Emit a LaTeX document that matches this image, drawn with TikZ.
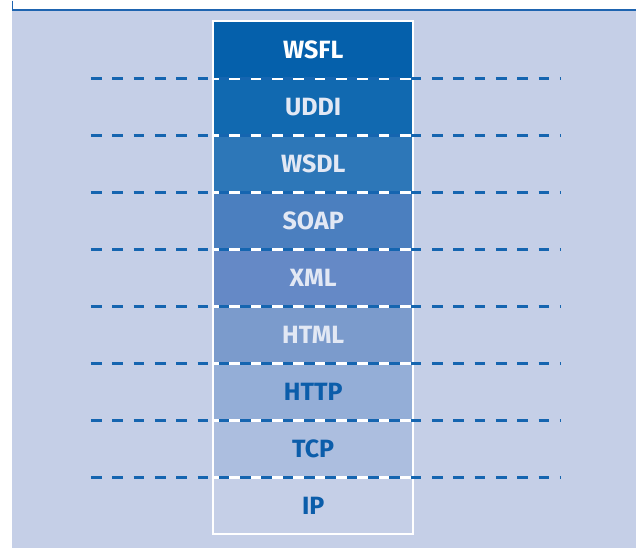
\documentclass[tikz,border=0pt]{standalone}
\usepackage{fontspec}
\setmainfont{Fira Sans}
\usetikzlibrary{calc}
\definecolor{panel}{HTML}{C5CFE7}
\definecolor{frameblue}{HTML}{1E64B0}
\definecolor{dashblue}{HTML}{1565B0}
\definecolor{lightlabel}{HTML}{E2E8F4}
\definecolor{darklabel}{HTML}{0B5DAA}
\definecolor{cWSFL}{HTML}{0560AB}
\definecolor{cUDDI}{HTML}{1169B0}
\definecolor{cWSDL}{HTML}{2D77B8}
\definecolor{cSOAP}{HTML}{4B7FBF}
\definecolor{cXML}{HTML}{6589C6}
\definecolor{cHTML}{HTML}{7B9BCC}
\definecolor{cHTTP}{HTML}{94AED7}
\definecolor{cTCP}{HTML}{ACBEDF}
\definecolor{cIP}{HTML}{C5CFE7}
\tikzset{
  layer/.style={rectangle, minimum width=200pt, minimum height=57pt, inner sep=0pt,
    font=\fontsize{25}{25}\selectfont\bfseries},
  sepwhite/.style={white, line width=2.4pt},
  sepdash/.style={dashblue, line width=2.6pt, dash pattern=on 10.67pt off 10.67pt},
}
\begin{document}
\begin{tikzpicture}[x=1pt,y=-1pt]
  % page and panel
  \fill[white] (0,0) rectangle (637,548);
  \fill[panel] (12,9) rectangle (637,548);
  \draw[frameblue, line width=1.2pt] (12.5,0) -- (12.5,9.5) -- (637,9.5);
  \useasboundingbox (0,0) rectangle (637,548);

  % protocol stack
  \node[layer, fill=cWSFL, text=white]      (wsfl) at (313.5, 49.5)  {WSFL};
  \node[layer, fill=cUDDI, text=lightlabel] (uddi) at (313.5, 106.5) {UDDI};
  \node[layer, fill=cWSDL, text=lightlabel] (wsdl) at (313.5, 163.5) {WSDL};
  \node[layer, fill=cSOAP, text=lightlabel] (soap) at (313.5, 220.5) {SOAP};
  \node[layer, fill=cXML,  text=lightlabel] (xml)  at (313.5, 277.5) {XML};
  \node[layer, fill=cHTML, text=lightlabel] (html) at (313.5, 334.5) {HTML};
  \node[layer, fill=cHTTP, text=darklabel]  (http) at (313.5, 391.5) {HTTP};
  \node[layer, fill=cTCP,  text=darklabel]  (tcp)  at (313.5, 448.5) {TCP};
  \node[layer, fill=cIP,   text=darklabel]  (ip)   at (313.5, 505.5) {IP};

  % outline of the stack
  \draw[white, line width=2.2pt] (wsfl.north west) rectangle (ip.south east);

  % separators between layers
  \foreach \n in {wsfl,uddi,wsdl,soap,xml,html,http,tcp}{
    \draw[sepwhite] (\n.south west) -- (\n.south east);
    \draw[sepdash] ($(\n.south)+(-222.5,0)$) -- ($(\n.south)+(247.5,0)$);
  }
\end{tikzpicture}
\end{document}
